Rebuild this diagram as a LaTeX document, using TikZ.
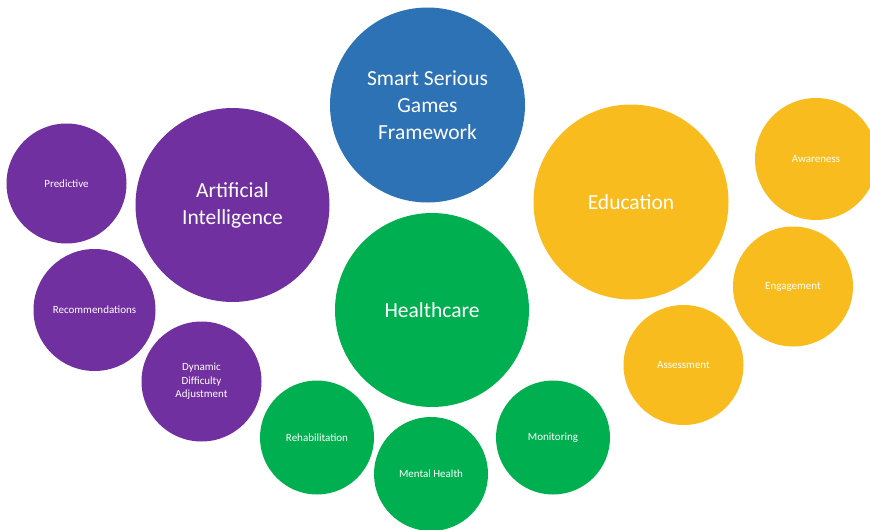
\documentclass[tikz,border=0pt]{standalone}
\usepackage{fontspec}
\setmainfont{Carlito}
\definecolor{aipurple}{HTML}{7030A0}
\definecolor{coreblue}{HTML}{2E72B6}
\definecolor{healthgreen}{HTML}{00B050}
\definecolor{edugold}{HTML}{F8BC1E}
\tikzset{
  bubble/.style={circle, inner sep=0pt, text=white, align=center},
  bigbubble/.style={bubble, minimum size=195pt, font=\fontsize{21.5}{27}\selectfont},
  smallbubble/.style={bubble, minimum size=120pt, font=\fontsize{11}{13.5}\selectfont},
  greenbubble/.style={bubble, minimum size=114pt, font=\fontsize{11}{13.5}\selectfont},
}
\begin{document}
\begin{tikzpicture}[x=1pt, y=-1pt]
  \useasboundingbox (0,0) rectangle (870,530);
  \fill[white] (0,0) rectangle (870,530);
  \clip (0,0) rectangle (870,530);

  % core framework
  \node[bigbubble, fill=coreblue] (ssgf) at (427.5,105) {Smart Serious\\Games\\Framework};

  % artificial intelligence branch
  \node[bigbubble, fill=aipurple, minimum size=194pt] (ai) at (232.5,205) {Artificial\\Intelligence};
  \node[smallbubble, fill=aipurple] (pred) at (66.5,183.5) {Predictive};
  \node[smallbubble, fill=aipurple, minimum size=122pt] (rec) at (94.5,310) {Recommendations};
  \node[smallbubble, fill=aipurple] (dda) at (201.5,381.5) {Dynamic\\Difficulty\\Adjustment};

  % healthcare branch
  \node[bigbubble, fill=healthgreen, minimum size=194pt] (health) at (432,310) {Healthcare};
  \node[greenbubble, fill=healthgreen] (rehab) at (317,437.5) {Rehabilitation};
  \node[greenbubble, fill=healthgreen] (mental) at (431,474) {Mental Health};
  \node[greenbubble, fill=healthgreen] (monit) at (553,437.5) {Monitoring};

  % education branch
  \node[bigbubble, fill=edugold] (edu) at (631,202) {Education};
  \node[smallbubble, fill=edugold, minimum size=122pt] (aware) at (816,159) {Awareness};
  \node[smallbubble, fill=edugold] (engage) at (793,286.5) {Engagement};
  \node[smallbubble, fill=edugold] (assess) at (683.5,365) {Assessment};
\end{tikzpicture}
\end{document}
